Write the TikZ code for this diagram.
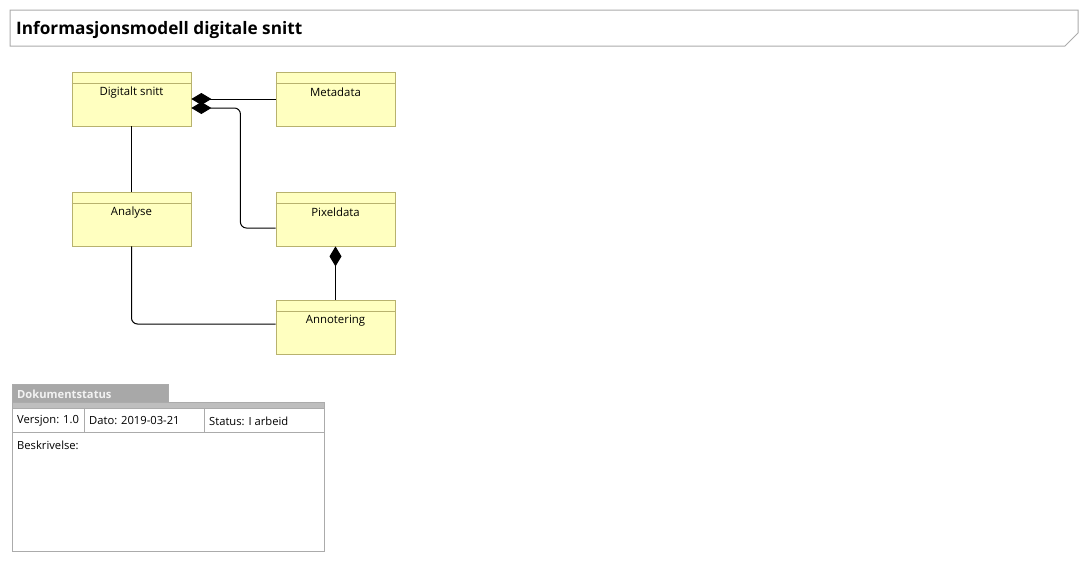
\documentclass[tikz,border=0pt]{standalone}
\usepackage{fontspec}
\setmainfont{Open Sans}
\usetikzlibrary{arrows.meta}
\definecolor{clsfill}{RGB}{255,255,192}
\definecolor{clsline}{RGB}{184,178,110}
\definecolor{framegray}{RGB}{171,171,171}
\definecolor{tabgray}{RGB}{168,168,168}
\definecolor{bargray}{RGB}{190,190,190}
\definecolor{tabtext}{RGB}{242,242,242}
\tikzset{
  cls/.style={draw=clsline, fill=clsfill, line width=0.8pt, minimum width=119pt, minimum height=54pt, inner sep=0pt},
  lbl/.style={font=\fontsize{11.4}{13}\selectfont, inner sep=0pt},
  conn/.style={line width=1pt, black},
  comp/.style={conn, -{Diamond[length=20pt,width=12pt]}},
  small/.style={font=\fontsize{11.2}{13}\selectfont, inner sep=0pt, anchor=west}
}
\newcommand\umlclass[4]{%
  \node[cls] (#1) at (#2,#3) {};
  \draw[clsline, line width=0.8pt] ([yshift=-12pt]#1.north west) -- ([yshift=-12pt]#1.north east);
  \node[lbl] (#1-name) at ([yshift=-21pt]#1.north) {#4};
}
\begin{document}
\begin{tikzpicture}[x=1pt,y=-1pt]
\useasboundingbox (0,0) rectangle (1089,563);
% title frame
\draw[framegray, line width=1pt] (10,10) -- (1078,10) -- (1078,33) -- (1065,46) -- (10,46) -- cycle;
\node[anchor=west, inner sep=0pt, font=\fontsize{17.2}{20}\selectfont\bfseries] (title) at (16,29.5) {Informasjonsmodell digitale snitt};
% classes
\umlclass{ds}{131.5}{99}{Digitalt snitt}
\umlclass{meta}{335.5}{99}{Metadata}
\umlclass{an}{131.5}{219}{Analyse}
\umlclass{pix}{335.5}{219}{Pixeldata}
\umlclass{ann}{335.5}{327}{Annotering}
% connectors
\draw[comp] (meta.west) -- (ds.east);
\draw[comp, rounded corners=6pt] ([yshift=-9pt]pix.west) -| ([xshift=49pt,yshift=-9pt]ds.east) -- ([yshift=-9pt]ds.east);
\draw[conn] (ds.south) -- (an.north);
\draw[conn, rounded corners=6pt] (an.south) |- ([yshift=3pt]ann.west);
\draw[comp] (ann.north) -- (pix.south);
% document status
\draw[framegray, fill=tabgray, line width=0.8pt] (12,402) -- (12,384) -- (168,384) -- (168,402);
\node[anchor=west, inner sep=0pt, text=tabtext, font=\fontsize{11.2}{13}\selectfont\bfseries] (dstab) at (17,394) {Dokumentstatus};
\draw[framegray, fill=bargray, line width=0.8pt] (12,402) rectangle (324,408);
\draw[framegray, line width=0.8pt] (12,408) rectangle (324,551.5);
\draw[framegray, line width=0.8pt] (12,432) -- (324,432);
\draw[framegray, line width=0.8pt] (84,408) -- (84,432);
\draw[framegray, line width=0.8pt] (204,408) -- (204,432);
\node[small] (ver) at (17,421) {Versjon: 1.0};
\node[small] (dato) at (89,421) {Dato: 2019-03-21};
\node[small] (stat) at (209,421) {Status: I arbeid};
\node[small] (besk) at (17,445.5) {Beskrivelse:};
\end{tikzpicture}
\end{document}
